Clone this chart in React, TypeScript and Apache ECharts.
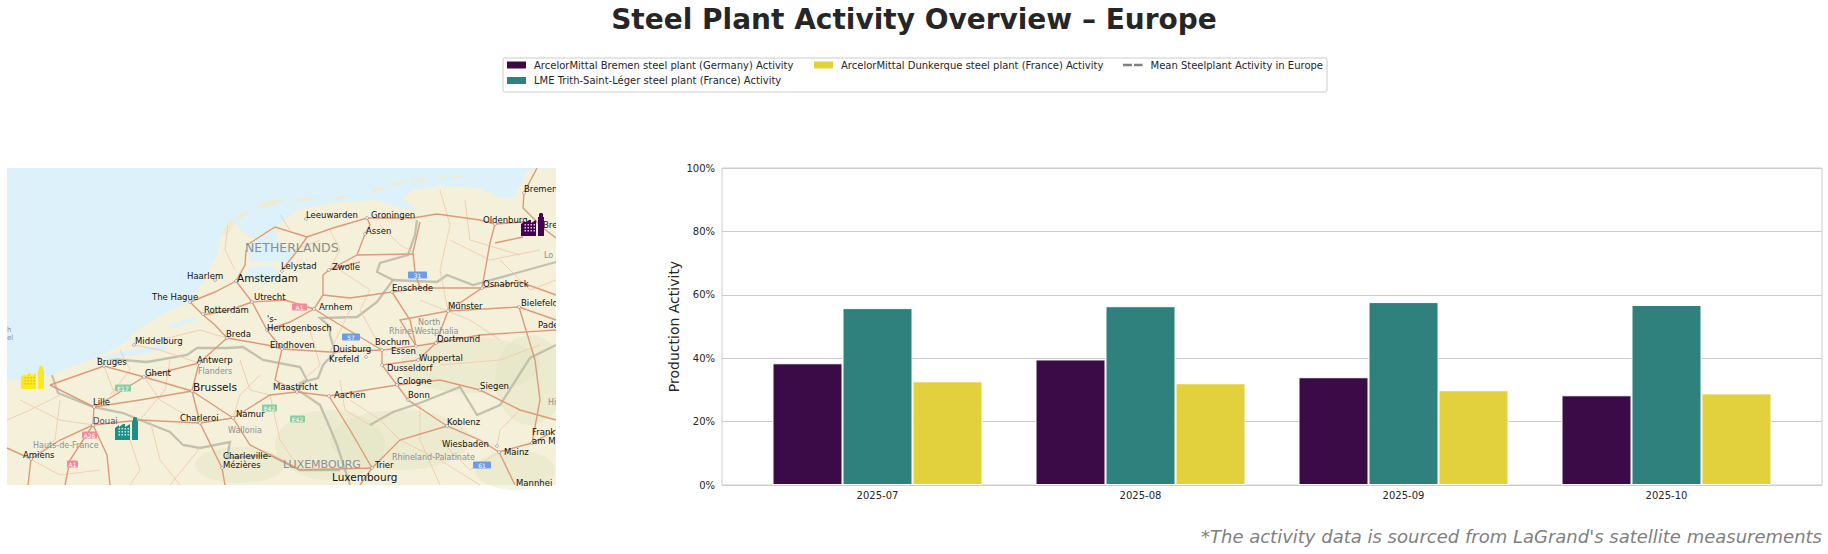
import React, { useEffect, useRef } from "react";
import * as echarts from "echarts";

const months = ["2025-07", "2025-08", "2025-09", "2025-10"];
const bremenActivity = [38.4, 39.6, 34.0, 28.3];
const trithActivity = [55.8, 56.4, 57.7, 56.8];
const dunkerqueActivity = [32.7, 32.1, 29.9, 28.9];
const meanActivity: number[] = [];
const seriesNames = [
  "ArcelorMittal Bremen steel plant (Germany) Activity",
  "LME Trith-Saint-Léger steel plant (France) Activity",
  "ArcelorMittal Dunkerque steel plant (France) Activity",
  "Mean Steelplant Activity in Europe",
];
const colors = ["#3B0B47", "#2E817C", "#E2D13C"];

type P = number[];
const SEA = "#DCF1FA";
const LAND = "#F5F0DA";
const land: P[] = [[7,381],[50,375],[95,358],[125,343],[140,328],[167,312],[190,302],[203,282],[217,255],[222,232],[233,222],[243,232],[253,238],[277,227],[297,210],[333,203],[377,200],[400,208],[417,210],[402,198],[413,190],[440,186],[480,188],[500,198],[513,198],[520,185],[527,170],[556,168],[556,485],[7,485]];
const waters: P[][] = [
  [[247,245],[275,230],[280,245],[296,250],[292,262],[270,262],[250,262]],
  [[248,268],[270,265],[280,272],[265,283],[246,279]],
  [[100,357],[130,350],[165,345],[168,349],[130,356],[102,361]],
  [[168,325],[195,317],[197,320],[170,329]],
];
const islands: P[][] = [
  [[222,232],[228,222],[236,220],[232,230],[225,236]],
  [[233,218],[245,212],[251,212],[240,219]],
  [[256,206],[270,201],[287,199],[275,205],[260,209]],
  [[292,200],[305,198],[320,198],[305,202]],
  [[332,198],[345,195],[350,196],[338,200]],
  [[372,188],[382,187],[385,191],[375,192]],
  [[389,184],[405,181],[408,183],[392,186]],
  [[412,180],[425,178],[427,180],[415,182]],
  [[437,177],[445,176],[450,177],[440,179]],
  [[452,176],[462,175],[463,177],[454,178]],
];
const relief: number[][] = [
  [400, 440, 70, 30],
  [470, 365, 70, 28],
  [330, 445, 55, 35],
  [530, 380, 35, 45],
  [240, 465, 45, 18],
  [515, 470, 40, 20],
];
const borders: P[][] = [
  [[417,220],[415,235],[408,255],[380,263],[377,272],[393,280],[377,302],[357,317],[320,318],[330,327],[330,335],[335,352],[323,365],[318,378],[300,383],[298,390],[320,405],[330,428],[337,445],[350,485]],
  [[393,280],[437,282],[447,275],[473,285],[520,272],[556,262]],
  [[97,358],[147,362],[187,355],[197,348],[227,348],[243,347],[263,360],[300,367],[307,380],[298,390]],
  [[52,375],[58,393],[93,407],[123,413],[140,420],[170,432],[183,445],[200,448],[230,442],[227,458],[270,455],[300,470],[340,470]],
  [[370,425],[393,412],[420,403],[460,387],[477,415],[500,405],[530,358],[556,345]],
];
const mainRoads: P[][] = [
  [[247,245],[275,227],[307,237],[333,228],[367,218],[370,225],[365,234],[357,255],[329,270],[323,275],[323,295],[314,309]],
  [[307,237],[298,250],[282,270]],
  [[367,218],[413,218],[437,214],[480,220],[495,224],[523,222]],
  [[537,168],[524,193],[523,208],[543,228],[556,238]],
  [[495,243],[523,237]],
  [[495,224],[490,243],[482,288],[448,311],[436,343]],
  [[420,222],[413,252],[415,272],[420,288]],
  [[357,255],[413,254]],
  [[329,270],[360,262]],
  [[392,292],[420,288],[482,288],[520,282],[556,295]],
  [[392,292],[350,298],[323,295]],
  [[392,292],[410,320],[416,346]],
  [[236,281],[252,302],[285,300],[314,309],[340,325],[382,350]],
  [[190,302],[215,292],[236,281],[245,265],[246,250]],
  [[203,315],[230,310],[252,302]],
  [[190,302],[203,315],[215,325],[227,338],[267,345],[282,349],[330,352],[382,350]],
  [[252,302],[267,330],[282,349],[275,380],[297,392]],
  [[314,309],[290,322],[267,330]],
  [[199,363],[227,338]],
  [[199,363],[192,391],[233,418],[270,395],[297,392],[329,396],[397,385]],
  [[199,363],[144,377],[104,366],[50,385]],
  [[144,377],[192,391],[140,400],[94,407],[50,385]],
  [[94,407],[115,395],[144,377]],
  [[94,407],[93,425],[100,440],[107,455],[110,485]],
  [[7,448],[31,459],[60,440],[93,425],[140,420],[200,423],[233,418]],
  [[192,391],[200,423],[222,468],[225,485]],
  [[233,418],[250,445],[300,470],[372,468],[360,485]],
  [[397,385],[382,365],[382,350],[416,346],[436,343],[480,335],[556,330]],
  [[397,385],[408,400],[447,426],[480,440],[499,452],[532,443],[556,430]],
  [[397,385],[440,380],[480,390],[520,410],[556,420]],
  [[382,365],[418,360],[436,343]],
  [[447,426],[400,440],[372,468]],
  [[329,396],[350,430],[372,468]],
  [[93,425],[70,460],[65,485]],
  [[31,459],[28,485]],
  [[416,346],[400,320],[448,311],[519,307],[556,320]],
  [[499,452],[515,485]],
  [[532,443],[540,400],[535,360],[519,307]],
];
const minorRoads: P[][] = [
  [[160,340],[200,330],[227,338]],[[134,345],[160,350],[199,363]],[[104,366],[115,395]],[[144,377],[160,400],[200,423]],
  [[60,400],[55,440],[31,459]],[[150,420],[160,460],[180,485]],[[270,395],[280,440],[300,470]],
  [[440,190],[450,225],[440,270],[448,311]],[[380,225],[400,245],[413,252]],[[465,200],[470,240],[520,255]],
  [[330,230],[340,250],[329,270]],[[295,250],[320,240]],[[340,270],[370,290],[360,310],[382,350]],
  [[420,300],[470,320],[500,340]],[[350,310],[330,352]],[[440,365],[500,360],[540,345]],[[420,405],[420,440],[440,485]],
  [[350,400],[380,420],[400,440],[440,460],[480,485]],[[440,440],[470,470],[499,452]],[[520,410],[500,430],[497,446]],
  [[20,400],[60,420],[93,425]],[[130,440],[140,470],[130,485]],[[200,448],[170,485]],[[240,360],[250,390],[270,395]],
  [[228,225],[225,250],[235,270]],[[310,330],[320,365],[300,383]],[[500,260],[530,290],[556,280]],
  [[7,420],[30,410],[60,395]],[[30,459],[60,475],[100,470]],[[120,350],[130,370],[110,395]],[[170,360],[165,390],[140,420]],
  [[260,375],[240,395],[233,418]],[[340,380],[345,410],[370,425]],[[450,240],[490,260],[540,250]],[[290,230],[280,215]],
];
const cityDots: P[] = [[306,219],[367,218],[365,234],[282,271],[329,270],[236,281],[215,280],[190,302],[203,314],[252,302],[314,309],[392,292],[448,311],[482,288],[495,224],[524,193],[519,307],[267,330],[227,338],[134,345],[282,349],[199,363],[104,366],[144,377],[192,391],[94,407],[93,425],[200,423],[233,418],[31,459],[222,468],[382,350],[366,357],[382,365],[416,346],[436,343],[418,360],[397,385],[408,400],[329,396],[297,392],[447,426],[480,390],[497,446],[499,452],[532,443],[372,468]];
const placeLabels: [string, number, number, number?, string?][] = [
  ["Leeuwarden",306,215],["Groningen",371,215],["Assen",366,231],["Lelystad",281,266],["Zwolle",332,267],["Haarlem",187,276],["Amsterdam",237,278,10.5],
  ["The Hague",152,297],["Utrecht",254,297],["Rotterdam",204,310],["Arnhem",319,307],["'s-",267,319],["Hertogenbosch",267,328],["Breda",226,334],["Middelburg",135,341],
  ["Eindhoven",270,345],["Bruges",97,362],["Ghent",145,373],["Antwerp",197,360],["Brussels",193,387,10.5],["Maastricht",273,387],["Aachen",334,395],["Lille",93,402],
  ["Douai",93,421,8.5,"#555"],["Charleroi",180,418],["Namur",236,414],["Amiens",23,455],["Charleville-",223,456],["Mézières",223,465],["Trier",375,465],["Luxembourg",332,477,10.5],
  ["Enschede",392,288],["Münster",448,306],["Osnabrück",483,284],["Oldenburg",483,220],["Bremen",524,189],["Bre",543,225],["Bielefeld",521,303],["Pader",538,325],
  ["Bochum",375,342],["Dortmund",437,339],["Duisburg",333,349],["Essen",391,351],["Krefeld",329,359],["Wuppertal",419,358],["Dusseldorf",387,368],["Cologne",397,381],
  ["Bonn",408,395],["Siegen",480,386],["Koblenz",447,422],["Wiesbaden",442,444],["Mainz",504,452],["Frank",532,432],["am M",532,441],["Mannhei",516,483],
];
const regionLabels: [string, number, number, number][] = [
  ["NETHERLANDS",245,247,12.5],["LUXEMBOURG",283,464,11],["Flanders",198,371,8],["Wallonia",228,430,8],["Hauts-de-France",33,445,8],["North",418,322,8],["Rhine-Westphalia",389,331,8],["Rhineland-Palatinate",392,457,8],["Lo",544,255,8],["h",7,330,7],["el",7,338,7],["Hi",548,402,8],
];
const shields: [string, number, number, number, string][] = [
  ["A1",292,307,15,"#F28A9B"],["31",408,275,19,"#6C9BE8"],["57",342,337,18,"#6C9BE8"],["E17",115,388,16,"#8ACBA0"],["A26",82,435,15,"#F28A9B"],["A1",67,464,11,"#F28A9B"],["E42",262,408,15,"#8ACBA0"],["E42",290,419,15,"#8ACBA0"],["61",473,465,18,"#6C9BE8"],
];
const plantIcons: [number, number, string, string][] = [
  [521,213,"#440154","#D9C8E0"],
  [115,417,"#1F8F85","#CDEBE7"],
  [21,366,"#FDE725","#E3C800"],
];

const poly = (points: P[], fill: string, z = 1) => ({ type: "polygon", z, silent: true, shape: { points }, style: { fill } });
const line = (points: P[], stroke: string, lineWidth: number, z = 2, opacity = 1) => ({ type: "polyline", z, silent: true, shape: { points }, style: { stroke, lineWidth, fill: null, opacity } });

function plant(x: number, y: number, c: string, w: string) {
  const windows: any[] = [];
  for (let r = 0; r < 3; r++) for (let k = 0; k < 4; k++) {
    windows.push({ type: "rect", shape: { x: x + 3.5 + k * 3, y: y + 11 + r * 3, width: 1.5, height: 1.5 }, style: { fill: w }, z: 9, silent: true });
  }
  return [
    { type: "polygon", z: 8, silent: true, style: { fill: c }, shape: { points: [[x,y+23],[x,y+11],[x+4,y+8],[x+4,y+10],[x+8,y+7],[x+10,y+7],[x+10,y+10],[x+15,y+7],[x+15,y+23]] } },
    { type: "polygon", z: 8, silent: true, style: { fill: c }, shape: { points: [[x+17,y+23],[x+17,y+4],[x+18,y+4],[x+18,y+1],[x+19,y],[x+21,y],[x+22,y+1],[x+22,y+4],[x+23,y+4],[x+23,y+23]] } },
    ...windows,
  ];
}

function mapGraphics() {
  const els: any[] = [];
  els.push({ type: "rect", z: 0, silent: true, shape: { x: 7, y: 168, width: 549, height: 317 }, style: { fill: SEA } });
  els.push(poly(land, LAND, 1));
  relief.forEach(([cx, cy, rx, ry]) => els.push({ type: "ellipse", z: 1, silent: true, shape: { cx, cy, rx, ry }, style: { fill: "#DDE3BE", opacity: 0.35 } }));
  islands.forEach((p) => els.push(poly(p, "#EFEBD3", 2)));
  borders.forEach((p) => els.push(line(p, "#B9B8A6", 2.3, 3, 0.85)));
  waters.forEach((p) => els.push(poly(p, SEA, 3)));
  minorRoads.forEach((p) => els.push(line(p, "#EFCBAD", 0.9, 4)));
  mainRoads.forEach((p) => els.push(line(p, "#DC9A78", 1.4, 5)));
  shields.forEach(([t, x, y, w, c]) => {
    els.push({ type: "rect", z: 6, silent: true, shape: { x, y: y - 3.5, width: w, height: 7, r: 1 }, style: { fill: c } });
    els.push({ type: "text", z: 7, silent: true, x: x + w / 2, y, style: { text: t, fill: "#fff", font: "6px 'DejaVu Sans'", align: "center", verticalAlign: "middle" } });
  });
  cityDots.forEach(([cx, cy]) => els.push({ type: "circle", z: 6, silent: true, shape: { cx, cy, r: 1.4 }, style: { fill: "#fff", stroke: "#777", lineWidth: 0.6 } }));
  regionLabels.forEach(([t, x, y, s]) => els.push({ type: "text", z: 7, silent: true, x, y, style: { text: t, fill: "#8A9090", font: `${s}px 'DejaVu Sans'`, verticalAlign: "middle" } }));
  placeLabels.forEach(([t, x, y, s, c]) => els.push({ type: "text", z: 7, silent: true, x, y, style: { text: t, fill: c ?? "#111", font: `${s ?? 8.5}px 'DejaVu Sans'`, verticalAlign: "middle" } }));
  plantIcons.forEach(([x, y, c, w]) => els.push(...plant(x, y, c, w)));
  els.push({ type: "rect", z: 10, silent: true, shape: { x: 556, y: 165, width: 50, height: 325 }, style: { fill: "#fff" } });
  return els;
}

const FONT = "'DejaVu Sans'";
const legendBase = {
  orient: "vertical" as const,
  itemWidth: 19,
  itemHeight: 7,
  itemGap: 5.5,
  padding: 0,
  selectedMode: false,
  icon: "rect",
  textStyle: { fontFamily: FONT, fontSize: 10, color: "#262626", padding: [0, 0, 0, 3] },
};

export default function App() {
  const ref = useRef<HTMLDivElement>(null);
  useEffect(() => {
    const chart = echarts.init(ref.current!, undefined, { renderer: "svg" });
    const bars = [bremenActivity, trithActivity, dunkerqueActivity].map((data, i) => ({
      name: seriesNames[i],
      type: "bar",
      xAxisIndex: 1,
      yAxisIndex: 1,
      data,
      barWidth: 70,
      barGap: 0,
      z: 3,
      itemStyle: { color: colors[i], borderColor: "#fff", borderWidth: 1 },
    }));
    chart.setOption({
      animation: false,
      backgroundColor: "#fff",
      title: [
        { text: "Steel Plant Activity Overview – Europe", left: 914, top: 5, textAlign: "center", padding: 0, textStyle: { fontFamily: FONT, fontSize: 28, fontWeight: "bold", color: "#262626" } },
        { text: "*The activity data is sourced from LaGrand's satellite measurements", right: 6, top: 527, padding: 0, textStyle: { fontFamily: FONT, fontSize: 18, fontStyle: "italic", fontWeight: "normal", color: "#808080" } },
      ],
      legend: [
        { ...legendBase, left: 507, top: 60, data: [seriesNames[0], seriesNames[1]], itemStyle: { borderWidth: 0 } },
        { ...legendBase, left: 814, top: 60, data: [seriesNames[2]], itemStyle: { borderWidth: 0 } },
        { ...legendBase, left: 1123, top: 60, itemWidth: 19.5, itemHeight: 2.5, lineStyle: { width: 0 }, itemStyle: { borderWidth: 0, color: "#808080" }, data: [{ name: seriesNames[3], icon: "path://M0 0h9v2.5H0z M11 0h8.5v2.5h-8.5z" }] },
      ],
      grid: [
        { left: 722, top: 168, width: 1100, height: 317, show: true, borderColor: "#cccccc", borderWidth: 1, backgroundColor: "transparent" },
        { left: 746, top: 168, width: 1052, height: 317 },
      ],
      xAxis: [
        { type: "category", gridIndex: 0, data: months, axisLine: { show: false }, axisTick: { show: false }, axisLabel: { show: false }, splitLine: { show: false } },
        { type: "category", gridIndex: 1, data: months, axisLine: { show: false }, axisTick: { show: false }, axisLabel: { fontFamily: FONT, fontSize: 10, color: "#262626", margin: 5 }, splitLine: { show: false } },
      ],
      yAxis: [
        {
          type: "value", gridIndex: 0, min: 0, max: 100, interval: 20,
          name: "Production Activity", nameLocation: "middle", nameGap: 41, nameMoveOverlap: false,
          nameTextStyle: { fontFamily: FONT, fontSize: 14, color: "#262626" },
          axisLine: { show: false }, axisTick: { show: false },
          axisLabel: { formatter: "{value}%", fontFamily: FONT, fontSize: 10, color: "#262626", margin: 7 },
          splitLine: { show: true, lineStyle: { color: "#cccccc", width: 1 } },
        },
        { type: "value", gridIndex: 1, min: 0, max: 100, interval: 20, show: false },
      ],
      series: [
        ...bars,
        { name: seriesNames[3], type: "line", xAxisIndex: 1, yAxisIndex: 1, data: meanActivity, symbol: "none", itemStyle: { color: "#808080" }, lineStyle: { color: "#808080", type: "dashed", width: 2.5 } },
      ],
      graphic: [
        { type: "rect", z: -1, silent: true, shape: { x: 503, y: 58, width: 824, height: 34, r: 2 }, style: { fill: "#fff", stroke: "#cccccc", lineWidth: 1 } },
        ...mapGraphics(),
      ],
    });
    return () => chart.dispose();
  }, []);
  return <div ref={ref} style={{ position: "fixed", left: 0, top: 0, width: 1828, height: 554 }} />;
}
